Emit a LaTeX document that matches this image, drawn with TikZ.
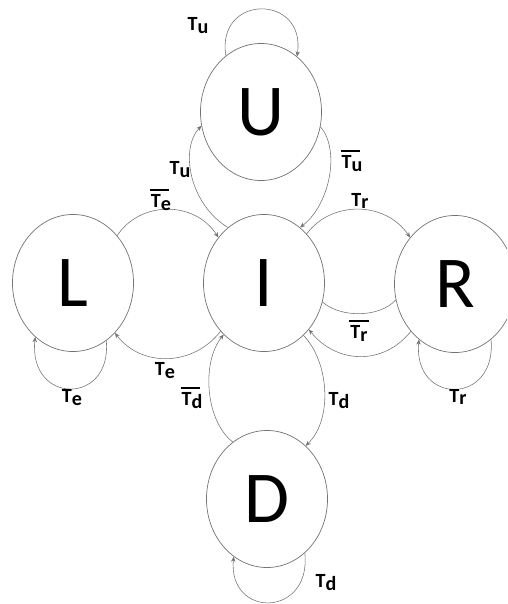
\documentclass[tikz,border=0pt]{standalone}
\usepackage{fontspec}
\setmainfont{Carlito}
\usetikzlibrary{arrows.meta,shapes.geometric}
\definecolor{linegray}{HTML}{737373}
\newcommand{\Tlow}[1]{T\raisebox{-.3ex}{#1}}
\newcommand{\Tbar}[1]{\makebox[0pt][l]{\hspace{-.05em}\rule[.82em]{.95em}{.08em}}T\raisebox{-.3ex}{#1}}
\tikzset{
  st/.style={draw=linegray, ellipse, line width=.5pt, minimum width=3.025cm, minimum height=3.425cm, inner sep=0pt, font=\fontsize{52}{52}\selectfont},
  ar/.style={-{Stealth[length=1.3mm,width=1.1mm]}, line width=.4pt, draw=linegray},
  ln/.style={line width=.4pt, draw=linegray},
  lbl/.style={font=\fontsize{14.3}{15}\selectfont\bfseries, inner sep=0pt},
}
\begin{document}
\begin{tikzpicture}[x=0.025cm, y=-0.025cm]
    \clip (0,0) rectangle (507,604);
    % states
    \node[st] (i) at (264,283) {I};
    \node[st] (u) at (261,112) {U};
    \node[st] (l) at (73,283) {L};
    \node[st] (r) at (455,284) {R};
    \node[st] (d) at (267,499) {D};
    % self loops
    \draw[ar] (u.122) .. controls +(-10,-62) and +(9,-63) .. (u.57);
    \draw[ar] (l.-60) .. controls +(6,65) and +(-7,68) .. (l.235);
    \draw[ar] (r.-57) .. controls +(6,66) and +(-6,66) .. (r.237);
    \draw[ar] (d.-55) .. controls +(7,65) and +(-6,62) .. (d.240);
    % up
    \draw[ar] (i.123) .. controls +(-38,-23) and +(-22,24) .. (u.193);
    \draw[ar] (u.-14) .. controls +(20,23) and +(30,-23) .. (i.57);
    % left
    \draw[ar] (l.47) .. controls +(23,-35) and +(-24,-37) .. (i.135);
    \draw[ar] (i.228) .. controls +(-27,35) and +(27,35) .. (l.310);
    % right
    \draw[ar] (i.49) .. controls +(24,-33) and +(-25,-37) .. (r.134);
    \draw[ln] (i.-18) .. controls +(18,16) and +(-16,18) .. (r.195);
    \draw[ar] (r.227) .. controls +(-28,35) and +(27,34) .. (i.-46);
    % down
    \draw[ar] (d.121) .. controls +(-28,-22) and +(-22,27) .. (i.232);
    \draw[ar] (i.-53) .. controls +(26,27) and +(27,-26) .. (d.54);
    % labels
    \node[lbl] (tu1) at (198,26) {\Tlow{u}};
    \node[lbl] (tu2) at (180,170) {\Tlow{u}};
    \node[lbl] (tu3) at (352,161) {\Tbar{u}};
    \node[lbl] (te1) at (161,200) {\Tbar{e}};
    \node[lbl] (te2) at (165,371) {\Tlow{e}};
    \node[lbl] (te3) at (72,398) {\Tlow{e}};
    \node[lbl] (tr1) at (360,201) {\Tlow{r}};
    \node[lbl] (tr2) at (359,331) {\Tbar{r}};
    \node[lbl] (tr3) at (458,397) {\Tlow{r}};
    \node[lbl] (td1) at (192,398) {\Tbar{d}};
    \node[lbl] (td2) at (339,401) {\Tlow{d}};
    \node[lbl] (td3) at (326,583) {\Tlow{d}};
\end{tikzpicture}
\end{document}
